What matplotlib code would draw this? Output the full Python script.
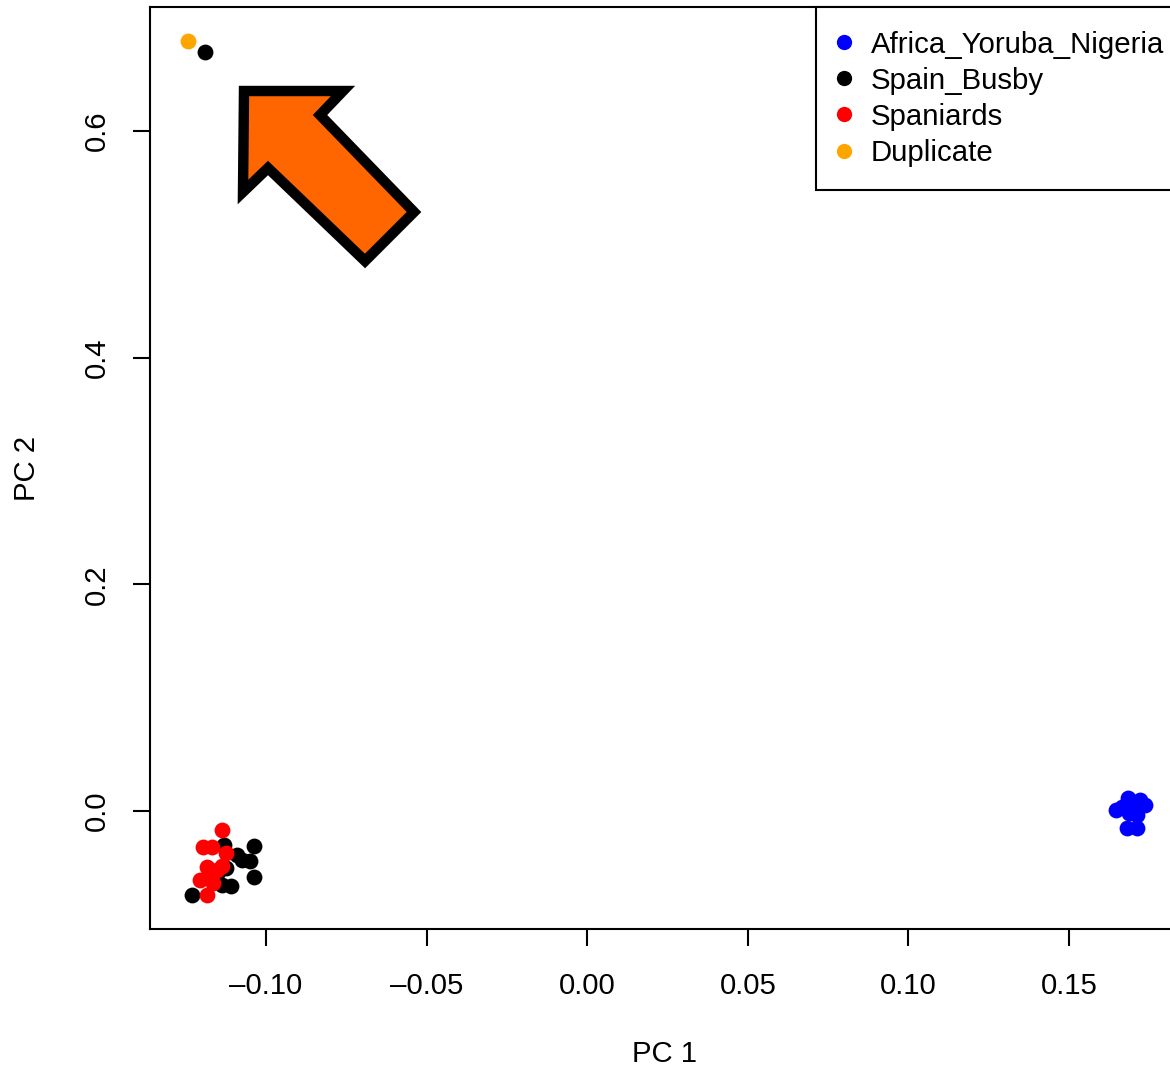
import matplotlib
matplotlib.use("Agg")
import matplotlib.pyplot as plt
from matplotlib.patches import Polygon
from matplotlib.lines import Line2D

plt.rcParams['font.family'] = ['Liberation Sans', 'DejaVu Sans']

# ---- data ----
groups = ["Africa_Yoruba_Nigeria", "Spain_Busby", "Spaniards", "Duplicate"]
colors = ["#0000FF", "#000000", "#FF0000", "#FFA500"]

africa_pc1 = [0.1645, 0.1682, 0.1720, 0.1735, 0.1685, 0.1710, 0.1680, 0.1710, 0.1665, 0.1698]
africa_pc2 = [0.0009, 0.0115, 0.0097, 0.0053, -0.0018, -0.0035, -0.0150, -0.0150, 0.0035, 0.0044]

busby_pc1 = [-0.1231, -0.1037, -0.1037, -0.1109, -0.1131, -0.1090, -0.1050, -0.1150, -0.1125, -0.1075, -0.1137, -0.1190]
busby_pc2 = [-0.0741, -0.0309, -0.0583, -0.0662, -0.0300, -0.0388, -0.0441, -0.0538, -0.0503, -0.0432, -0.0653, 0.6699]

spaniards_pc1 = [-0.1137, -0.1196, -0.1168, -0.1125, -0.1184, -0.1153, -0.1137, -0.1206, -0.1165, -0.1184, -0.1168]
spaniards_pc2 = [-0.0168, -0.0318, -0.0318, -0.0371, -0.0494, -0.0521, -0.0485, -0.0609, -0.0635, -0.0741, -0.0556]

duplicate_pc1 = [-0.1243]
duplicate_pc2 = [0.6796]

xticks = [-0.10, -0.05, 0.00, 0.05, 0.10, 0.15]
yticks = [0.0, 0.2, 0.4, 0.6]

# ---- figure ----
W, H = 1170, 1068
fig = plt.figure(figsize=(W / 100, H / 100), dpi=100)
ax = fig.add_axes([150 / W, (H - 929) / H, (1178 - 150) / W, (929 - 7) / H])

FS = 21.2
ms = 130
series = [(africa_pc1, africa_pc2), (busby_pc1, busby_pc2),
          (spaniards_pc1, spaniards_pc2), (duplicate_pc1, duplicate_pc2)]
for (xs, ys), c in zip(series, colors):
    ax.scatter(xs, ys, s=ms, color=c, linewidths=0, zorder=3)

ax.set_xlim(-0.1361, 0.1839)
ax.set_ylim(-0.1041, 0.7094)
ax.set_xticks(xticks)
ax.set_xticklabels([f"{v:.2f}".replace("-", "\u2013") for v in xticks])
ax.set_yticks(yticks)
ax.set_yticklabels([f"{v:.1f}" for v in yticks])
for s in ax.spines.values():
    s.set_linewidth(1.5)
ax.tick_params(axis='both', direction='out', length=12.5, width=1.5, labelsize=FS)
ax.tick_params(axis='x', pad=18.5)
ax.tick_params(axis='y', pad=16)
for lab in ax.get_yticklabels():
    lab.set_rotation(90)
    lab.set_va('center')

fig.text(664 / W, 1 - 1054 / H, "PC 1", ha='center', va='center', fontsize=FS)
fig.text(27 / W, 1 - 468 / H, "PC 2", ha='center', va='center', rotation=90, fontsize=FS)

handles = [Line2D([], [], marker='o', linestyle='none', markersize=11,
                  markerfacecolor=c, markeredgewidth=0) for c in colors]
leg = ax.legend(handles, groups, loc='upper left',
                bbox_to_anchor=((816 - 150) / 1028, 1.0), fontsize=FS,
                frameon=True, fancybox=False, framealpha=1, edgecolor='black',
                borderpad=0.8, handlelength=0.33, handletextpad=0.74,
                labelspacing=0.275, borderaxespad=0)
leg.get_frame().set_linewidth(1.5)

# annotation arrow (figure pixels)
arrow_px = [(244, 91), (343, 91), (320, 115), (414, 212), (365, 261), (268, 168), (243, 192)]
arrow = Polygon([(x / W, 1 - y / H) for x, y in arrow_px], closed=True,
                transform=fig.transFigure, facecolor='#FF6600', edgecolor='black',
                linewidth=7.5, joinstyle='miter', zorder=10)
fig.patches.append(arrow)

fig.savefig("out.png", dpi=100)
